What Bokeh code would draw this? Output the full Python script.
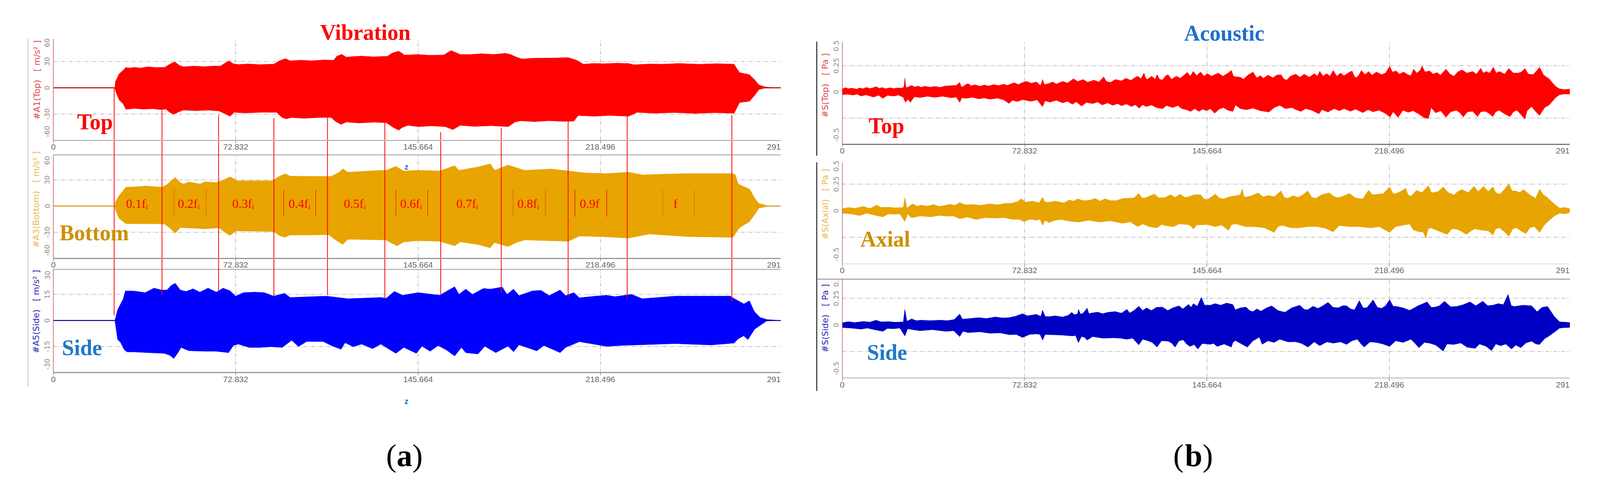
from bokeh.core.properties import value
from bokeh.embed import file_html
from bokeh.models import FixedTicker, Label, LinearAxis, Range1d
from bokeh.plotting import figure
from bokeh.resources import INLINE

# x ticks, same for all six traces
z_ticks = [0, 72.832, 145.664, 218.496]
z_tick_labels = ["0", "72.832", "145.664", "218.496"]
z_end = 290.5

# vibration envelopes (m/s^2)
top_up_z = [24.6, 24.8, 26.3, 27.9, 29, 30.5, 32.3, 35, 37.7, 41, 44.5, 46.5, 48.5, 50.3, 52, 56, 60.7, 64, 66.7, 68.4, 70.1, 71.9, 73.9, 78, 82, 88, 90.3, 92.7, 94.6, 99, 103, 108, 112, 113.2, 115.2, 117, 118.7, 123, 128, 133.5, 135.1, 137.9, 139.5, 140.1, 145.7, 150, 155.9, 158.9, 162.5, 166.3, 171, 176, 180.6, 182.7, 184.9, 187.1, 192, 199.2, 205.7, 209, 211.7, 216, 219.9, 225, 229.8, 231.8, 238, 243, 250, 258, 265, 271.9, 273, 274.1, 278, 280.1, 281.8, 284, 286.1, 290.5]
top_up = [0, 7, 16, 20, 23.3, 22.6, 23.3, 22.7, 24, 23.2, 23.3, 27, 29.7, 25.6, 24, 24.8, 24.2, 24.9, 24.8, 27.8, 30.8, 27.5, 26.6, 27.3, 26.5, 27, 30.8, 33.3, 30.8, 31.6, 30.9, 31.8, 31.5, 36, 38.2, 35, 35.5, 36.2, 35.4, 36, 39.4, 41.9, 39, 37.4, 38, 37.2, 37.4, 42.6, 38, 38, 38.9, 38.1, 39.4, 38, 35, 33, 33.8, 34, 34.5, 31.5, 27, 27.9, 27.5, 28.1, 27.8, 26.3, 27.2, 27, 27.8, 26.9, 27.6, 27, 21.8, 17.4, 15, 9.2, 3.3, 1.3, 0.3, 0]
top_lo_z = [24.6, 24.8, 26.3, 27.9, 29, 32.3, 36, 40, 43.2, 44.9, 46.5, 48.1, 50.3, 52, 57, 62, 66.2, 68.4, 70.6, 72.2, 77, 83, 89.2, 91.4, 93, 95.2, 100, 106, 111, 112.7, 114.9, 117, 122, 128, 133, 135.7, 137.9, 139.5, 141.7, 145.7, 151, 156.5, 159.6, 162.5, 168, 175, 181.7, 184.4, 186.6, 192, 198, 203.5, 207.9, 209.6, 216.1, 222, 229.8, 233.1, 240, 248, 256, 264, 271.9, 273, 274.1, 278, 280.1, 281.8, 284, 290.5]
top_lo = [0, -3.4, -13.8, -18.3, -24.5, -23.5, -24.3, -23.8, -25, -24.2, -28, -30.2, -27.2, -25.4, -26.1, -25.5, -26.4, -29.4, -32.4, -28, -28.7, -27.9, -28, -33.9, -35.4, -33.9, -34.8, -33.9, -33.9, -38.3, -41.8, -39, -40.1, -39.2, -39.8, -45, -48.3, -45, -42.8, -44.3, -43.4, -44.3, -47.7, -42.8, -44, -43.2, -44.3, -39, -37.6, -38.6, -37.5, -38.3, -38, -31.6, -32.4, -31.5, -32.4, -28, -29, -28.2, -29.2, -28.4, -29, -22.7, -16.8, -15.3, -8.6, -1.9, -0.4, 0]

bottom_up_z = [24.6, 24.9, 26.3, 29, 32, 34.6, 36.8, 43.2, 45.4, 47, 48.7, 50.7, 52, 54.2, 58.6, 60.7, 65, 67.2, 70.6, 73.4, 87.5, 90.3, 92.7, 94.6, 110.9, 114.2, 115.6, 117.6, 130.8, 133, 136.8, 139.5, 140, 145.7, 154.3, 160.3, 162, 169.6, 174.5, 176.2, 181.6, 184.9, 188.2, 199.1, 205.7, 212.3, 221, 229.8, 235.2, 242.9, 253.8, 271.4, 272.4, 273.5, 275.7, 278.1, 280.1, 281.8, 285, 290.5]
bottom_up = [0, 5.2, 12, 21.6, 22, 22.4, 23.1, 21.6, 24.6, 29, 32.8, 26.9, 25.4, 27.6, 25.4, 27.9, 26.9, 29, 33.6, 29, 29.1, 34.3, 36.9, 34.3, 34, 38.8, 42.8, 38.8, 41, 41, 45.5, 41, 40.3, 41, 40.3, 46.3, 41, 44.8, 48.5, 41, 47, 44, 41, 42.5, 40.3, 38, 37.3, 38.8, 35.8, 36.5, 37.3, 37.3, 35.8, 25.4, 22.4, 19.4, 9, 3, 0.7, 0]
bottom_lo_z = [24.6, 24.9, 26.3, 29, 44.3, 46, 48.7, 50.7, 56.3, 60.7, 66.2, 68.4, 70.6, 72.8, 88, 90.2, 92.5, 94.4, 110, 112.7, 115.6, 117.6, 132.9, 135.1, 137.3, 139.5, 140, 145.7, 154.3, 160.3, 162.5, 169.6, 174.5, 176.2, 181.6, 184.9, 188.2, 205.7, 210.1, 218.8, 229.8, 238, 253.8, 271.4, 273, 274.1, 278, 280.1, 281.8, 285, 290.5]
bottom_lo = [0, -5.2, -14.2, -20.1, -20.4, -23.9, -30.9, -24.6, -25.4, -26.1, -24.9, -29.9, -33.6, -28.4, -29.1, -33.6, -35.8, -33.3, -32.8, -38.8, -44, -38, -38.8, -42.5, -45.5, -41.8, -41, -39.6, -40.3, -45.5, -41, -44, -47.8, -41.8, -46.3, -41.8, -38.8, -40.3, -34.3, -35, -36.6, -32, -35, -35.8, -29, -24.6, -17.9, -9.7, -2.2, -0.7, 0]

side_up_z = [24.6, 25.7, 27.9, 28.8, 32.3, 36.7, 40.2, 43.2, 45.4, 47, 48.7, 50.7, 53, 55.8, 58.5, 61.8, 65.1, 67.8, 70.6, 72.8, 76, 80.4, 84.2, 88, 92.4, 94.6, 109, 117.6, 130.8, 133, 136.2, 139.5, 145.7, 154.3, 160.3, 162, 164.7, 167.4, 171.8, 174.5, 179.3, 181.2, 183.8, 186, 191.4, 194.8, 198, 202.4, 204.6, 207.9, 210.1, 216.6, 221, 224.3, 230.9, 235.2, 248.4, 270.3, 272, 275.8, 278, 279.6, 280.1, 282.3, 285, 290.5]
side_up = [0, 6.2, 12.3, 17, 16.9, 16, 18.6, 17.5, 17.5, 20, 21.4, 17.5, 16.7, 18.2, 16.3, 18.6, 16.3, 18.6, 17, 14, 16, 16.3, 16, 14, 15.6, 13.2, 14, 12.5, 13.2, 12.8, 16.7, 14.5, 16, 14.5, 19.4, 15, 18, 15, 18.4, 18, 19.2, 15, 18, 14.3, 17, 17.3, 14.3, 17.5, 14.3, 16, 13, 14, 14.5, 13.7, 15, 12.5, 14, 14, 12.5, 9.5, 11.3, 6.2, 4.9, 1.7, 0.5, 0]
side_lo_z = [24.6, 25.7, 26.8, 28.4, 29.5, 32.3, 37.7, 44.3, 46.5, 48.1, 49.8, 51, 54.1, 60.7, 65, 70, 71.9, 73.9, 78.2, 82.6, 87, 91.4, 95.2, 97.9, 101.2, 107.8, 111, 114.9, 116.5, 119.8, 123.1, 127.5, 130.8, 136.8, 140, 145, 147.2, 150.5, 153.7, 157, 160.3, 163, 164.7, 169.6, 172.3, 176.7, 181.6, 183.8, 186, 193.1, 195.9, 202.4, 204.6, 210.1, 221, 226.5, 248.4, 262.6, 271.9, 273.5, 275.7, 277.4, 280.1, 282.3, 285, 290.5]
side_lo = [0, -11, -12.5, -17, -18.1, -18.1, -18.5, -18.9, -20, -21.9, -18.5, -15.5, -17.4, -17.7, -17.7, -18.5, -14.4, -13.6, -15.5, -15.5, -15.1, -15.5, -11.4, -15, -12.1, -12.1, -14.4, -16.6, -12.8, -15.1, -13.6, -16.2, -13.6, -18.9, -15.5, -18.9, -14.8, -17.7, -14.4, -17, -20.4, -15.5, -18.5, -19.3, -14.8, -18.5, -14.8, -18, -14, -17.5, -14.4, -18.5, -15.5, -12.2, -14.9, -14.4, -13.3, -14.1, -13, -10.6, -8.8, -11, -5, -2.8, -0.2, 0]

# acoustic envelopes (Pa), z then value
s_top_up = [(0,.029),(1.2,.04),(2.5,.03),(3.8,.036),(5.8,.026),(7,.038),(8.2,.03),(9.6,.043),(11,.032),(12.4,.04),(13.5,.05),(14.8,.034),(16,.042),(17.3,.03),(19,.04),(20.5,.032),(22,.038),(23.9,.035),(24.7,.05),(25,.132),(25.4,.05),(25.8,.041),(27.7,.062),(29,.046),(30.3,.056),(31.5,.044),(33,.054),(35,.045),(37,.052),(39.2,.044),(41,.055),(43.6,.06),(45.5,.062),(46.9,.091),(47.5,.05),(48,.047),(49,.065),(50.2,.079),(51.5,.058),(53,.068),(55,.054),(56.7,.066),(58.5,.056),(60.5,.07),(62.5,.06),(64.4,.074),(66,.062),(67.5,.078),(68.8,.087),(70.3,.07),(72,.09),(73.7,.1),(75.5,.082),(77.5,.095),(79.2,.06),(80,.118),(80.7,.07),(82.5,.08),(84,.095),(85.5,.075),(88,.1),(90,.085),(92.3,.125),(94,.1),(96.2,.118),(98,.092),(100.5,.112),(102.5,.095),(104.4,.143),(105.5,.1),(107.1,.09),(109,.118),(111.5,.105),(113.3,.13),(115.3,.11),(116.8,.135),(118,.15),(119.3,.125),(120.5,.18),(121.2,.13),(121.9,.12),(123.6,.15),(125,.12),(125.7,.165),(126.8,.118),(127.9,.115),(129,.15),(130.1,.165),(131.5,.12),(133.4,.15),(135,.13),(136.5,.16),(137.8,.187),(139,.15),(140.2,.197),(141.5,.155),(143.1,.19),(144.5,.15),(145.8,.175),(147.5,.15),(150.1,.18),(152,.15),(153.8,.175),(155.4,.205),(156.2,.15),(157,.145),(159,.14),(160.2,.12),(162,.16),(164,.19),(165.5,.135),(167,.155),(168.2,.13),(170,.16),(172,.135),(173.5,.16),(175.2,.165),(176.3,.125),(177.4,.112),(179,.15),(181.1,.17),(182.8,.14),(184.5,.17),(186.5,.14),(188.6,.175),(189.8,.15),(190.7,.197),(192,.15),(193.4,.175),(194.8,.15),(196.1,.205),(197.5,.15),(199,.18),(200.4,.155),(202,.18),(203.6,.2),(204.5,.15),(205.2,.135),(206.3,.16),(207.3,.205),(208.8,.165),(210.2,.195),(211.6,.16),(213.3,.19),(215.4,.165),(217,.18),(218.6,.245),(219.7,.19),(221.2,.2),(222.5,.17),(224.2,.19),(225.8,.165),(227.1,.155),(228.2,.218),(229.4,.18),(230.6,.2),(231.6,.246),(232.7,.19),(234.6,.2),(236,.17),(237.5,.185),(238.9,.16),(241.1,.218),(242.7,.17),(244.3,.15),(245.8,.19),(247.5,.21),(249.5,.18),(251.8,.195),(253.3,.17),(255,.226),(256,.18),(257.1,.195),(258.6,.18),(260,.236),(261.2,.18),(262.5,.195),(264.5,.17),(266.2,.224),(268,.18),(270,.18),(271.3,.19),(272.6,.224),(274,.17),(275.9,.165),(277.3,.2),(278.5,.236),(280,.165),(281.3,.14),(282.3,.125),(283.9,.079),(285,.05),(286.5,.029),(288.5,.022),(290.5,.027)]
s_top_lo = [(0,-.027),(2,-.022),(4.2,-.03),(6,-.022),(7.5,-.04),(9.5,-.028),(12.5,-.05),(14.5,-.032),(16.2,-.062),(18,-.034),(20.6,-.04),(22.5,-.03),(24.4,-.052),(25.2,-.1),(26.2,-.07),(27.2,-.1),(28.8,-.046),(31,-.054),(34,-.042),(37,-.052),(40,-.042),(43.6,-.056),(45.5,-.05),(46.9,-.1),(47.8,-.055),(49.1,-.062),(52,-.052),(54.5,-.066),(56.7,-.058),(59,-.07),(62,-.06),(64.5,-.076),(66.6,-.11),(68,-.08),(69.9,-.092),(72,-.074),(75.4,-.09),(77.8,-.076),(80,-.142),(81,-.085),(83,-.098),(85.5,-.08),(88,-.105),(90,-.09),(91.8,-.118),(93.5,-.095),(95.6,-.136),(97.5,-.1),(100,-.112),(102,-.096),(103.8,-.125),(106,-.105),(108,-.128),(110,-.112),(111.5,-.132),(113.5,-.115),(115.5,-.14),(117,-.122),(118.6,-.155),(120,-.122),(121.3,-.14),(123.5,-.125),(125.5,-.15),(127.9,-.16),(129.5,-.13),(132,-.15),(134,-.13),(135.6,-.16),(137.5,-.17),(139.1,-.187),(140.8,-.16),(142.4,-.187),(144,-.165),(145.5,-.18),(147,-.16),(148.7,-.204),(150.5,-.165),(152.2,-.15),(154,-.175),(156,-.187),(157,-.125),(159,-.16),(161.5,-.17),(164,-.155),(167,-.18),(170.4,-.192),(172.5,-.15),(174.7,-.128),(177,-.16),(179.5,-.15),(181.5,-.172),(183.2,-.187),(185,-.16),(187.5,-.175),(190.4,-.21),(191.5,-.17),(194,-.192),(196.5,-.16),(198.5,-.18),(200.4,-.16),(203,-.185),(205,-.165),(207.9,-.198),(210,-.17),(212,-.19),(214.3,-.175),(216.5,-.2),(218.8,-.24),(220,-.19),(222,-.243),(223.9,-.175),(226,-.195),(228,-.18),(230.5,-.215),(232.5,-.248),(234.1,-.254),(235.2,-.15),(237,-.2),(239,-.18),(241.1,-.242),(243,-.19),(245.3,-.175),(246.7,-.2),(248,-.24),(249.7,-.19),(251.8,-.185),(253.7,-.236),(255,-.19),(256.6,-.185),(258,-.2),(259.8,-.236),(261,-.19),(262.3,-.175),(264.5,-.21),(266.7,-.236),(268,-.19),(269.4,-.175),(271,-.215),(272.6,-.26),(273.5,-.18),(275.3,-.14),(277,-.19),(278.5,-.224),(280.5,-.15),(282.3,-.125),(285,-.052),(286.5,-.027),(288.5,-.02),(290.5,-.021)]
s_axial_up = [(0,.018),(2.5,.03),(5,.022),(8.5,.04),(10,.026),(11.3,.022),(13.7,.052),(15.5,.03),(18.4,.033),(21,.026),(24.4,.031),(25,.122),(25.8,.024),(28,.064),(30,.042),(31.5,.052),(34,.042),(36.5,.058),(38.5,.04),(40.3,.046),(43,.06),(45,.05),(46.9,.076),(49,.055),(52.4,.058),(55,.05),(59,.064),(62,.055),(65,.068),(67.7,.07),(70,.085),(71.5,.112),(73.2,.08),(76,.09),(78.6,.073),(80,.125),(81,.08),(82.5,.079),(85,.09),(88.5,.073),(90.7,.1),(92.5,.09),(94,.112),(96,.095),(98.4,.096),(101,.115),(103,.09),(105,.112),(107,.095),(109.3,.094),(112,.115),(114.8,.118),(116.5,.12),(118.4,.162),(119.6,.12),(120.8,.118),(122.5,.135),(124.6,.156),(126.5,.12),(129,.124),(131,.15),(133,.125),(135,.156),(136.7,.125),(138.3,.13),(140.5,.15),(143.1,.15),(144.5,.11),(145.8,.104),(147.5,.13),(149,.156),(150.5,.12),(152.2,.11),(154.5,.13),(157,.14),(159,.15),(159.7,.205),(160.4,.13),(161.3,.128),(163.5,.14),(166.1,.168),(168,.13),(170.4,.143),(172.5,.13),(175.2,.186),(176.5,.125),(177.9,.116),(180,.14),(182,.125),(184,.15),(185.9,.186),(187.5,.125),(189.1,.116),(191.5,.15),(194.5,.168),(196.5,.13),(198.2,.122),(200.5,.14),(202.5,.162),(205,.12),(207.9,.11),(209,.15),(210.2,.193),(211.7,.15),(213.2,.153),(216,.16),(218.6,.223),(220,.16),(221.2,.162),(223,.18),(225,.211),(226,.15),(227.1,.134),(229.3,.191),(231.5,.17),(234.1,.235),(235.2,.17),(236.2,.171),(238,.18),(240,.223),(242,.17),(244.3,.147),(245.8,.18),(247.5,.199),(250,.17),(252.3,.229),(254,.18),(256.1,.229),(258,.18),(259.8,.223),(261,.17),(262.5,.153),(264.5,.2),(266.2,.253),(267.5,.185),(268.9,.186),(270.5,.17),(272.1,.199),(274.5,.15),(276.9,.116),(278.5,.201),(280,.15),(281.7,.122),(284.4,.061),(286.5,.024),(288.5,.03),(290.5,.018)]
s_axial_lo = [(0,-.024),(3.5,-.03),(6.9,-.046),(9.6,-.024),(12.5,-.04),(16.2,-.058),(18.5,-.03),(20.6,-.034),(23,-.03),(25,-.102),(26.1,-.031),(27.7,-.067),(31,-.05),(35.4,-.058),(38.5,-.045),(41.9,-.052),(44.5,-.05),(46.9,-.076),(50,-.06),(53.5,-.083),(57,-.065),(61.2,-.07),(64.5,-.065),(68.2,-.083),(70.5,-.08),(72.6,-.103),(75,-.08),(77.5,-.089),(79,-.08),(80,-.137),(81,-.09),(82.5,-.113),(85,-.09),(87.4,-.083),(91,-.1),(94.4,-.107),(98.5,-.09),(102.6,-.107),(107,-.095),(112,-.119),(115,-.105),(118,-.15),(120,-.125),(122.5,-.15),(125.7,-.162),(127.5,-.13),(130,-.145),(132.3,-.15),(134.5,-.125),(138.3,-.131),(139.5,-.15),(140.2,-.174),(141.5,-.135),(145.8,-.131),(149,-.15),(151.5,-.135),(154.3,-.186),(155.5,-.13),(157.5,-.125),(161,-.15),(164,-.15),(168.5,-.16),(172.5,-.205),(174,-.15),(175.7,-.137),(179,-.16),(182.2,-.162),(186,-.15),(189.7,-.15),(193,-.165),(196,-.199),(198.5,-.14),(202.5,-.15),(206.5,-.15),(211,-.162),(214.5,-.15),(218.6,-.205),(221,-.15),(226.6,-.125),(228,-.18),(230.4,-.199),(232,-.2),(233,-.26),(234,-.17),(235.2,-.162),(238,-.19),(241.6,-.223),(243.5,-.17),(245.3,-.174),(247,-.19),(249.2,-.223),(252.5,-.17),(256.1,-.186),(258,-.19),(259.8,-.229),(261,-.17),(262.5,-.162),(264.5,-.2),(266.2,-.241),(267.8,-.17),(269.4,-.162),(271,-.19),(273,-.217),(274.7,-.16),(276.4,-.15),(278.5,-.205),(280.2,-.14),(281.7,-.104),(284.4,-.049),(286.5,-.024),(288.5,-.03),(290.5,-.018)]
s_side_up = [(0,.02),(2.5,.03),(5,.022),(8.5,.032),(11,.026),(13.5,.044),(15.5,.028),(18.4,.031),(21,.025),(24.4,.028),(25,.145),(25.8,.034),(27.7,.056),(29.5,.04),(31.5,.044),(35,.04),(39.2,.044),(42,.04),(44.7,.05),(46.9,.102),(48,.053),(51,.06),(54.5,.068),(57.5,.06),(61.1,.074),(64,.065),(66.6,.068),(69,.08),(72,.105),(74,.085),(77.5,.099),(79.3,.08),(80,.138),(81,.08),(82.5,.077),(85,.085),(88,.074),(90.3,.09),(91.6,.118),(92.8,.095),(94,.105),(94.3,.146),(95.2,.1),(96.2,.111),(97.8,.157),(98.5,.105),(99.5,.111),(102,.12),(104,.105),(106,.118),(109,.125),(111.5,.11),(113.7,.146),(114.8,.111),(116.5,.135),(118.4,.175),(120,.135),(121.5,.16),(123.5,.135),(125.5,.165),(127.9,.167),(130,.135),(132,.16),(134.5,.179),(136,.15),(138.3,.193),(139.3,.165),(140.2,.2),(141.8,.175),(143.4,.259),(144.7,.185),(147,.185),(149,.2),(151.1,.185),(153.5,.205),(156,.191),(157,.142),(159,.16),(161.3,.167),(162.7,.135),(164,.124),(165.6,.15),(167.2,.129),(169.5,.16),(171.5,.179),(174,.135),(176.8,.118),(179.5,.16),(182.7,.185),(184.5,.145),(185.9,.142),(188,.175),(190,.155),(192,.18),(194,.212),(196,.165),(198.2,.161),(199.8,.18),(201.4,.179),(203,.15),(204.6,.142),(206.5,.228),(208,.16),(209.5,.161),(212,.235),(213.7,.165),(215.4,.155),(217,.18),(218.6,.237),(220,.175),(221.2,.174),(224,.16),(226.6,.136),(230,.18),(233.6,.216),(235.2,.165),(236.8,.167),(238.5,.18),(240.5,.222),(243,.17),(245.4,.173),(248,.19),(250.7,.216),(253,.18),(255.8,.222),(257.8,.18),(259.8,.185),(262,.2),(264,.19),(265.9,.286),(267.2,.18),(268.4,.173),(272,.185),(275.3,.179),(277.5,.124),(279.5,.165),(281.7,.173),(284.4,.078),(286.5,.028),(288.5,.026),(290.5,.022)]
s_side_lo = [(0,-.025),(3.5,-.03),(7.5,-.04),(10,-.03),(12.5,-.043),(16.2,-.061),(18,-.034),(20.6,-.036),(23,-.03),(25,-.104),(26.1,-.037),(31,-.055),(36,-.045),(41.4,-.061),(44.5,-.055),(46.9,-.11),(48.2,-.06),(50.2,-.073),(55,-.065),(59,-.079),(63,-.075),(66.6,-.092),(69.5,-.09),(72,-.119),(74.8,-.09),(77.5,-.085),(79,-.09),(80,-.143),(81,-.09),(82.5,-.092),(87,-.095),(91.8,-.104),(93.2,-.1),(94.3,-.168),(95.5,-.11),(96.7,-.116),(97.8,-.143),(100,-.11),(104,-.125),(108.2,-.122),(111,-.125),(113.7,-.135),(116,-.125),(118.4,-.188),(120,-.135),(121.9,-.148),(123.8,-.165),(125.7,-.209),(127.5,-.15),(130.1,-.153),(131.5,-.17),(132.9,-.209),(134.5,-.15),(136.2,-.141),(137.5,-.18),(138.9,-.203),(140.5,-.185),(142,-.227),(143.8,-.175),(146.8,-.183),(148.3,-.175),(149.7,-.203),(152.5,-.18),(155.4,-.209),(156,-.165),(157,-.147),(159.5,-.18),(161.8,-.209),(164,-.15),(166.6,-.116),(167.7,-.183),(170,-.15),(172.5,-.165),(174.7,-.135),(178,-.16),(181.1,-.159),(183.5,-.175),(186,-.209),(188.5,-.16),(190.7,-.196),(193.5,-.16),(196.1,-.172),(199,-.16),(201.4,-.184),(203.5,-.15),(205.7,-.135),(207.2,-.18),(208.4,-.209),(210.8,-.16),(213.2,-.165),(216,-.18),(218.6,-.203),(221,-.15),(224,-.165),(227.1,-.135),(229,-.18),(230.3,-.215),(232.5,-.165),(234.6,-.172),(237,-.19),(240,-.246),(241.5,-.18),(244.3,-.184),(247,-.17),(249.5,-.21),(252.8,-.221),(254.5,-.18),(257,-.2),(259.3,-.242),(261,-.18),(263,-.196),(265,-.18),(267.3,-.227),(269,-.19),(271,-.215),(273,-.17),(275.3,-.153),(277,-.18),(278.5,-.184),(280.5,-.13),(282.3,-.104),(285,-.058),(286.5,-.03),(288.5,-.026),(290.5,-.024)]

# order bands marked on the bottom trace
sep_z = [24.3, 43.4, 66, 88.1, 109.5, 132.4, 154.7, 178.9, 205.6, 229.2, 271]
band_text = ["0.1fᵢ", "0.2fᵢ", "0.3fᵢ", "0.4fᵢ", "0.5fᵢ", "0.6fᵢ", "0.7fᵢ", "0.8fᵢ", "0.9f", "f"]
band_z = [33.4, 54.1, 75.8, 98.3, 120.4, 142.9, 165.3, 189.7, 214.2, 248.5]
bracket_z = [48.2, 61, 92, 104.8, 136.8, 149.5, 183.6, 196.5, 208.3, 221, 243.4, 256]
bracket_color = ["#E8600A", "#E8600A", "#E83010", "#E83010", "#E83010", "#E83010", "#E8600A", "#E8600A", "#E81010", "#E81010", "#E8700A", "#E8700A"]

RED, GOLD, BLUE, NAVY = "#FF0000", "#E8A400", "#0000FF", "#0000C4"

p = figure(width=4110, height=1233, output_backend="svg", toolbar_location=None,
           x_range=Range1d(8, 4118), y_range=Range1d(1241, 8),
           x_axis_type=None, y_axis_type=None, min_border=0, outline_line_color=None)
p.grid.visible = False


def add_trace(name, x0, y0, px_per_unit, ymin, ymax, grid_y, tick_pos, tick_txt, color, up_z, up, lo_z, lo, axis_color):
    xname = "x" + name
    yname = "y" + name
    p.extra_x_ranges[xname] = Range1d((8 - x0) / 6.41, (4118 - x0) / 6.41)
    p.extra_y_ranges[yname] = Range1d((y0 - 1241) / px_per_unit, (y0 - 8) / px_per_unit)
    kw = dict(x_range_name=xname, y_range_name=yname)

    # dash-dot grid
    for g in grid_y:
        p.line([0, z_end], [g, g], line_color="#C4C4C4", line_width=2, line_dash=[10, 4, 2, 4], **kw)
    for t in z_ticks[1:]:
        p.line([t, t], [ymin, ymax], line_color="#9A9A9A", line_width=1.2, line_dash=[10, 4, 2, 4], **kw)

    p.patch(up_z + lo_z[::-1], up + lo[::-1], fill_color=color, line_color=color, line_width=1, **kw)

    xax = LinearAxis(fixed_location=ymin, bounds=(0, z_end), **kw)
    xax.ticker = FixedTicker(ticks=z_ticks)
    xax.major_label_overrides = dict(zip(z_ticks, z_tick_labels))
    xax.axis_line_color = axis_color
    xax.axis_line_width = 3
    xax.major_tick_in = 0
    xax.major_tick_out = 7
    xax.major_tick_line_color = "#555555"
    xax.minor_tick_line_color = None
    xax.major_label_text_font = "Liberation Sans"
    xax.major_label_text_font_size = "21px"
    xax.major_label_text_color = "#666666"
    xax.major_label_standoff = 3
    p.add_layout(xax, "below")

    yax = LinearAxis(fixed_location=0, bounds=(ymin, ymax), **kw)
    yax.ticker = FixedTicker(ticks=tick_pos)
    yax.major_label_overrides = dict(zip(tick_pos, tick_txt))
    yax.axis_line_color = "#C85050"
    yax.axis_line_width = 1.5
    yax.major_tick_in = 0
    yax.major_tick_out = 0
    yax.minor_tick_line_color = None
    yax.major_label_orientation = "vertical"
    yax.major_label_text_font = "DejaVu Sans"
    yax.major_label_text_font_size = "18px"
    yax.major_label_text_color = "#8A8A8A"
    yax.major_label_standoff = 9
    p.add_layout(yax, "left")

    # last tick of the software is pushed inside the frame
    p.text([z_end], [ymin], text=["291"], text_align="right", text_baseline="top", y_offset=10,
           text_font=value("Liberation Sans"), text_font_size="21px", text_color="#666666", **kw)
    return kw


def add_text(txt, x, y, color, size=56, font="Liberation Serif", style="bold", angle=0, align="left", base="alphabetic"):
    p.add_layout(Label(x=x, y=y, text=txt, text_color=color, text_font=font, text_font_size=f"{size}px",
                       text_font_style=style, angle=angle, angle_units="deg", text_align=align, text_baseline=base))


def unzip(pairs):
    return [a for a, _ in pairs], [b for _, b in pairs]


# vibration side
kw_top = add_trace("a1", 144, 232.3, 2.243, -60, 56, [-30, 30], [51.4, 30, 0, -30, -49.8], ["60", "30", "0", "-30", "-60"],
                   RED, top_up_z, top_up, top_lo_z, top_lo, "#BBBBBB")
kw_bot = add_trace("a2", 144, 535, 2.233, -60, 58, [-30, 30], [52.4, 30, 0, -30, -50.6], ["60", "30", "0", "-30", "-60"],
                   GOLD, bottom_up_z, bottom_up, bottom_lo_z, bottom_lo, "#999999")
kw_sid = add_trace("a3", 144, 827.7, 4.45, -30, 29.5, [-15, 15], [26, 15, 0, -15, -25.2], ["30", "15", "0", "-15", "-30"],
                   BLUE, side_up_z, side_up, side_lo_z, side_lo, "#999999")

# idle stretches either side of the run-up
for kw, c, w in [(kw_top, "#A80000", 2.5), (kw_bot, "#DDB45A", 4), (kw_sid, "#000090", 2.5)]:
    p.line([0, 24.6], [0, 0], line_color=c, line_width=w, **kw)
    p.line([284, z_end], [0, 0], line_color=c, line_width=w, **kw)

# acoustic side
kw_b1 = add_trace("b1", 2163.7, 242.7, 268, -0.5, 0.478, [-0.25, 0.25], [0.44, 0.25, 0, -0.41], ["0.5", "0.25", "0", "-0.5"],
                  RED, *unzip(s_top_up), *unzip(s_top_lo), "#777777")
kw_b2 = add_trace("b2", 2163.7, 546.7, 272, -0.5, 0.454, [-0.25, 0.25], [0.42, 0.25, 0, -0.41], ["0.5", "0.25", "0", "-0.5"],
                  GOLD, *unzip(s_axial_up), *unzip(s_axial_lo), "#E6E6E6")
kw_b3 = add_trace("b3", 2163.7, 839, 272, -0.5, 0.43, [-0.25, 0.25], [0.39, 0.25, 0, -0.41], ["0.", "0.25", "0", "-0.5"],
                  NAVY, *unzip(s_side_up), *unzip(s_side_lo), "#C8C8C8")

# top rules of the panels that have one
p.line([144, 2006], [404, 404], line_color="#BBBBBB", line_width=3)
p.line([144, 2006], [697, 697], line_color="#BBBBBB", line_width=3)
p.line([2098, 4027], [722, 722], line_color="#ABABAB", line_width=3)

# page edges left of each group
p.line([79, 79], [106, 998], line_color="#C8C8C8", line_width=2)
p.line([2098.4, 2098.4], [114, 406], line_color="#222222", line_width=2.5)
p.line([2098.4, 2098.4], [423, 1008], line_color="#222222", line_width=2.5)

# red separators running through the three vibration traces
sep_top = [232, 290, 302, 310, 308, 320, 346, 335, 318, 303, 302]
sep_bottom = [815, 763, 755, 767, 763, 772, 763, 757, 768, 772, 779]
p.segment(sep_z, sep_top, sep_z, sep_bottom, line_color="#FF0000", line_width=2, x_range_name="xa1")

for z0, c in zip(bracket_z, bracket_color):
    p.line([z0, z0], [493, 562], line_color=c, line_width=1.5, x_range_name="xa1")
p.text(band_z, [3] * len(band_z), text=band_text, text_color="#FF0000", text_font=value("Liberation Serif"),
       text_font_size="32px", text_align="center", text_baseline="middle", **kw_bot)

add_text("Vibration", 827, 90, RED)
add_text("Acoustic", 3039, 92, "#1F6FC8")
add_text("Top", 205, 319, RED)
add_text("Bottom", 160, 603, "#CC9000")
add_text("Side", 166, 897, "#1F78C8")
add_text("Top", 2231, 329, RED)
add_text("Axial", 2210, 619, "#CC9000")
add_text("Side", 2227, 909, "#1F78C8")

nb = "\u00a0"
for txt, x, y, c in [(f"#A1(Top){nb}{nb}{nb}[{nb}m/s²{nb}]", 102, 212, "#E04848"),
                     (f"#A3(Bottom){nb}{nb}{nb}[{nb}m/s²{nb}]", 100, 518, "#E8B84A"),
                     (f"#A5(Side){nb}{nb}{nb}[{nb}m/s²{nb}]", 100, 805, "#2828B0"),
                     (f"#S(Top){nb}{nb}{nb}[{nb}Pa{nb}]", 2120, 226, "#E04848"),
                     (f"#S(Axial){nb}{nb}{nb}[{nb}Pa{nb}]", 2120, 530, "#E8B84A"),
                     (f"#S(Side){nb}{nb}{nb}[{nb}Pa{nb}]", 2120, 822, "#2828B0")]:
    add_text(txt, x, y, c, size=22, font="DejaVu Sans", style="normal", angle=90, align="center", base="middle")

add_text("z", 1043, 434, "#1A6FCC", size=20, font="Liberation Sans")
add_text("z", 1043, 1034, "#1A6FCC", size=20, font="Liberation Sans")

# panel letters
add_text("(", 996, 1173, "#000000", size=80, style="normal")
add_text("a", 1023, 1173, "#000000", size=80)
add_text(")", 1063, 1173, "#000000", size=80, style="normal")
add_text("(", 3011, 1173, "#000000", size=80, style="normal")
add_text("b", 3041, 1173, "#000000", size=80)
add_text(")", 3086, 1173, "#000000", size=80, style="normal")

open("out.html", "w").write(file_html(p, INLINE))
